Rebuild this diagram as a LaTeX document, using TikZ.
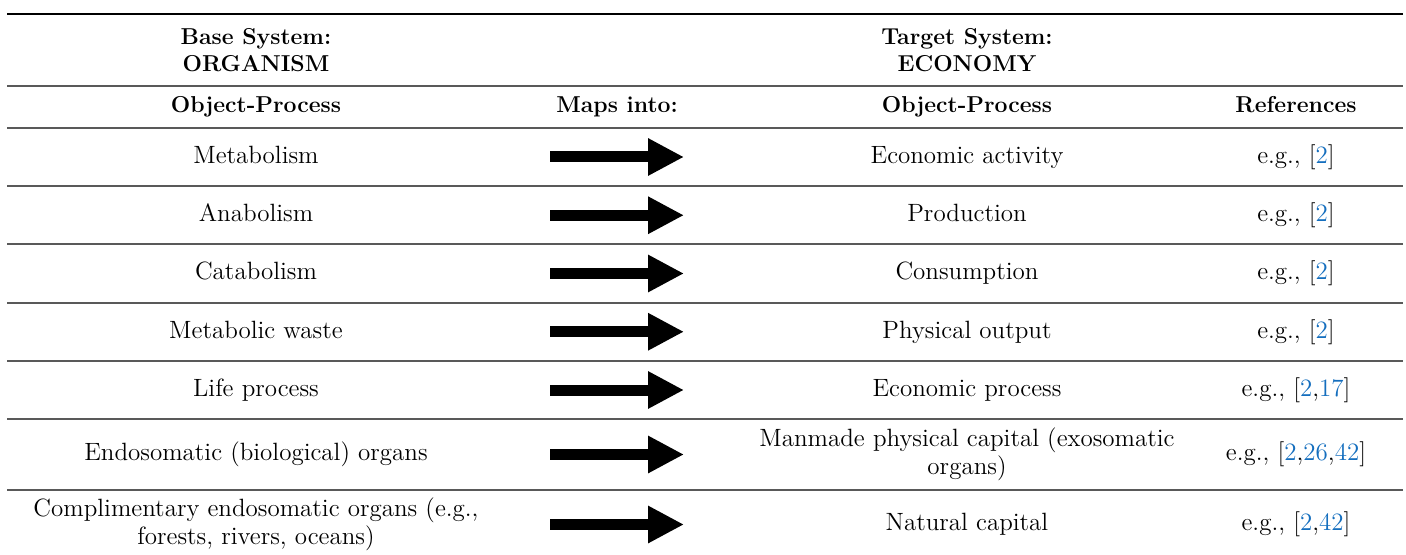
\documentclass[tikz,border=0pt]{standalone}
\usepackage{tikz}
\usetikzlibrary{positioning}
\usetikzlibrary{arrows.meta}
\definecolor{refblue}{RGB}{20,110,190}
\tikzstyle{cell} = [align=center, inner sep=0pt, font=\fontsize{12.5}{14}\selectfont]
\tikzstyle{line1} = [cell, text height=8.75pt, text depth=2.4pt]
\tikzstyle{head} = [cell, font=\fontsize{11.5}{13.5}\selectfont\bfseries]
\tikzstyle{toprule} = [draw, line width=1.3pt]
\tikzstyle{rule} = [draw, black!65, line width=0.6pt]
\tikzstyle{maparrow} = [draw, line width=5.5pt, -{Triangle[length=18pt, width=17.5pt]}]
\newcommand{\rf}[1]{\textcolor{refblue}{#1}}

\begin{document}
\begin{tikzpicture}[x=0.5pt, y=-0.5pt, node distance=29.125pt]
\useasboundingbox (0,0) rectangle (1406,555);
            % Rules
        \path [toprule] (7,14) -- (1403,14);
        \foreach \y in {86,128,186,244,303,361,419,490}
            \path [rule] (7,\y) -- (1403,\y);
            % Header
        \node [head] (base) at (256,50) {Base System:\\ORGANISM};
        \node [head] (target) at (967,50) {Target System:\\ECONOMY};
        \node [head, text height=8pt, text depth=2.2pt] (hobj) at (256,107) {Object-Process};
        \node [head, text height=8pt, text depth=2.2pt, right of=hobj, node distance=180.5pt] (hmap) {Maps into:};
        \node [head, text height=8pt, text depth=2.2pt, right of=hobj, node distance=355.5pt] (htobj) {Object-Process};
        \node [head, text height=8pt, text depth=2.2pt, right of=htobj, node distance=164.5pt] (href) {References};
            % Base column
        \node [line1] (l1) at (256,157) {Metabolism};
        \node [line1, below of=l1] (l2) {Anabolism};
        \node [line1, below of=l2] (l3) {Catabolism};
        \node [line1, below of=l3] (l4) {Metabolic waste};
        \node [line1, below of=l4] (l5) {Life process};
        \node [line1, below of=l5, node distance=32.25pt] (l6) {Endosomatic (biological) organs};
        \node [cell, below of=l6, node distance=35pt] (l7) {Complimentary endosomatic organs (e.g.,\\forests, rivers, oceans)};
            % Target column
        \node [line1, right of=l1, node distance=355.5pt] (r1) {Economic activity};
        \node [line1, right of=l2, node distance=355.5pt] (r2) {Production};
        \node [line1, right of=l3, node distance=355.5pt] (r3) {Consumption};
        \node [line1, right of=l4, node distance=355.5pt] (r4) {Physical output};
        \node [line1, right of=l5, node distance=355.5pt] (r5) {Economic process};
        \node [cell, right of=l6, node distance=355.5pt] (r6) {Manmade physical capital (exosomatic\\organs)};
        \node [line1, right of=l7, node distance=355.5pt] (r7) {Natural capital};
            % References
        \node [line1, right of=r1, node distance=164.5pt] (f1) {e.g., [\rf{2}]};
        \node [line1, right of=r2, node distance=164.5pt] (f2) {e.g., [\rf{2}]};
        \node [line1, right of=r3, node distance=164.5pt] (f3) {e.g., [\rf{2}]};
        \node [line1, right of=r4, node distance=164.5pt] (f4) {e.g., [\rf{2}]};
        \node [line1, right of=r5, node distance=164.5pt] (f5) {e.g., [\rf{2},\rf{17}]};
        \node [line1, right of=r6, node distance=164.5pt] (f6) {e.g., [\rf{2},\rf{26},\rf{42}]};
        \node [line1, right of=r7, node distance=164.5pt] (f7) {e.g., [\rf{2},\rf{42}]};
            % Edges
        \coordinate (sx) at (550,107);
        \coordinate (ex) at (684,107);
        \foreach \i in {1,...,7} {
            \coordinate (s\i) at (l\i -| sx);
            \coordinate (e\i) at (l\i -| ex);
            \path [maparrow] (s\i) -- (e\i);
        }
\end{tikzpicture}
\end{document}
